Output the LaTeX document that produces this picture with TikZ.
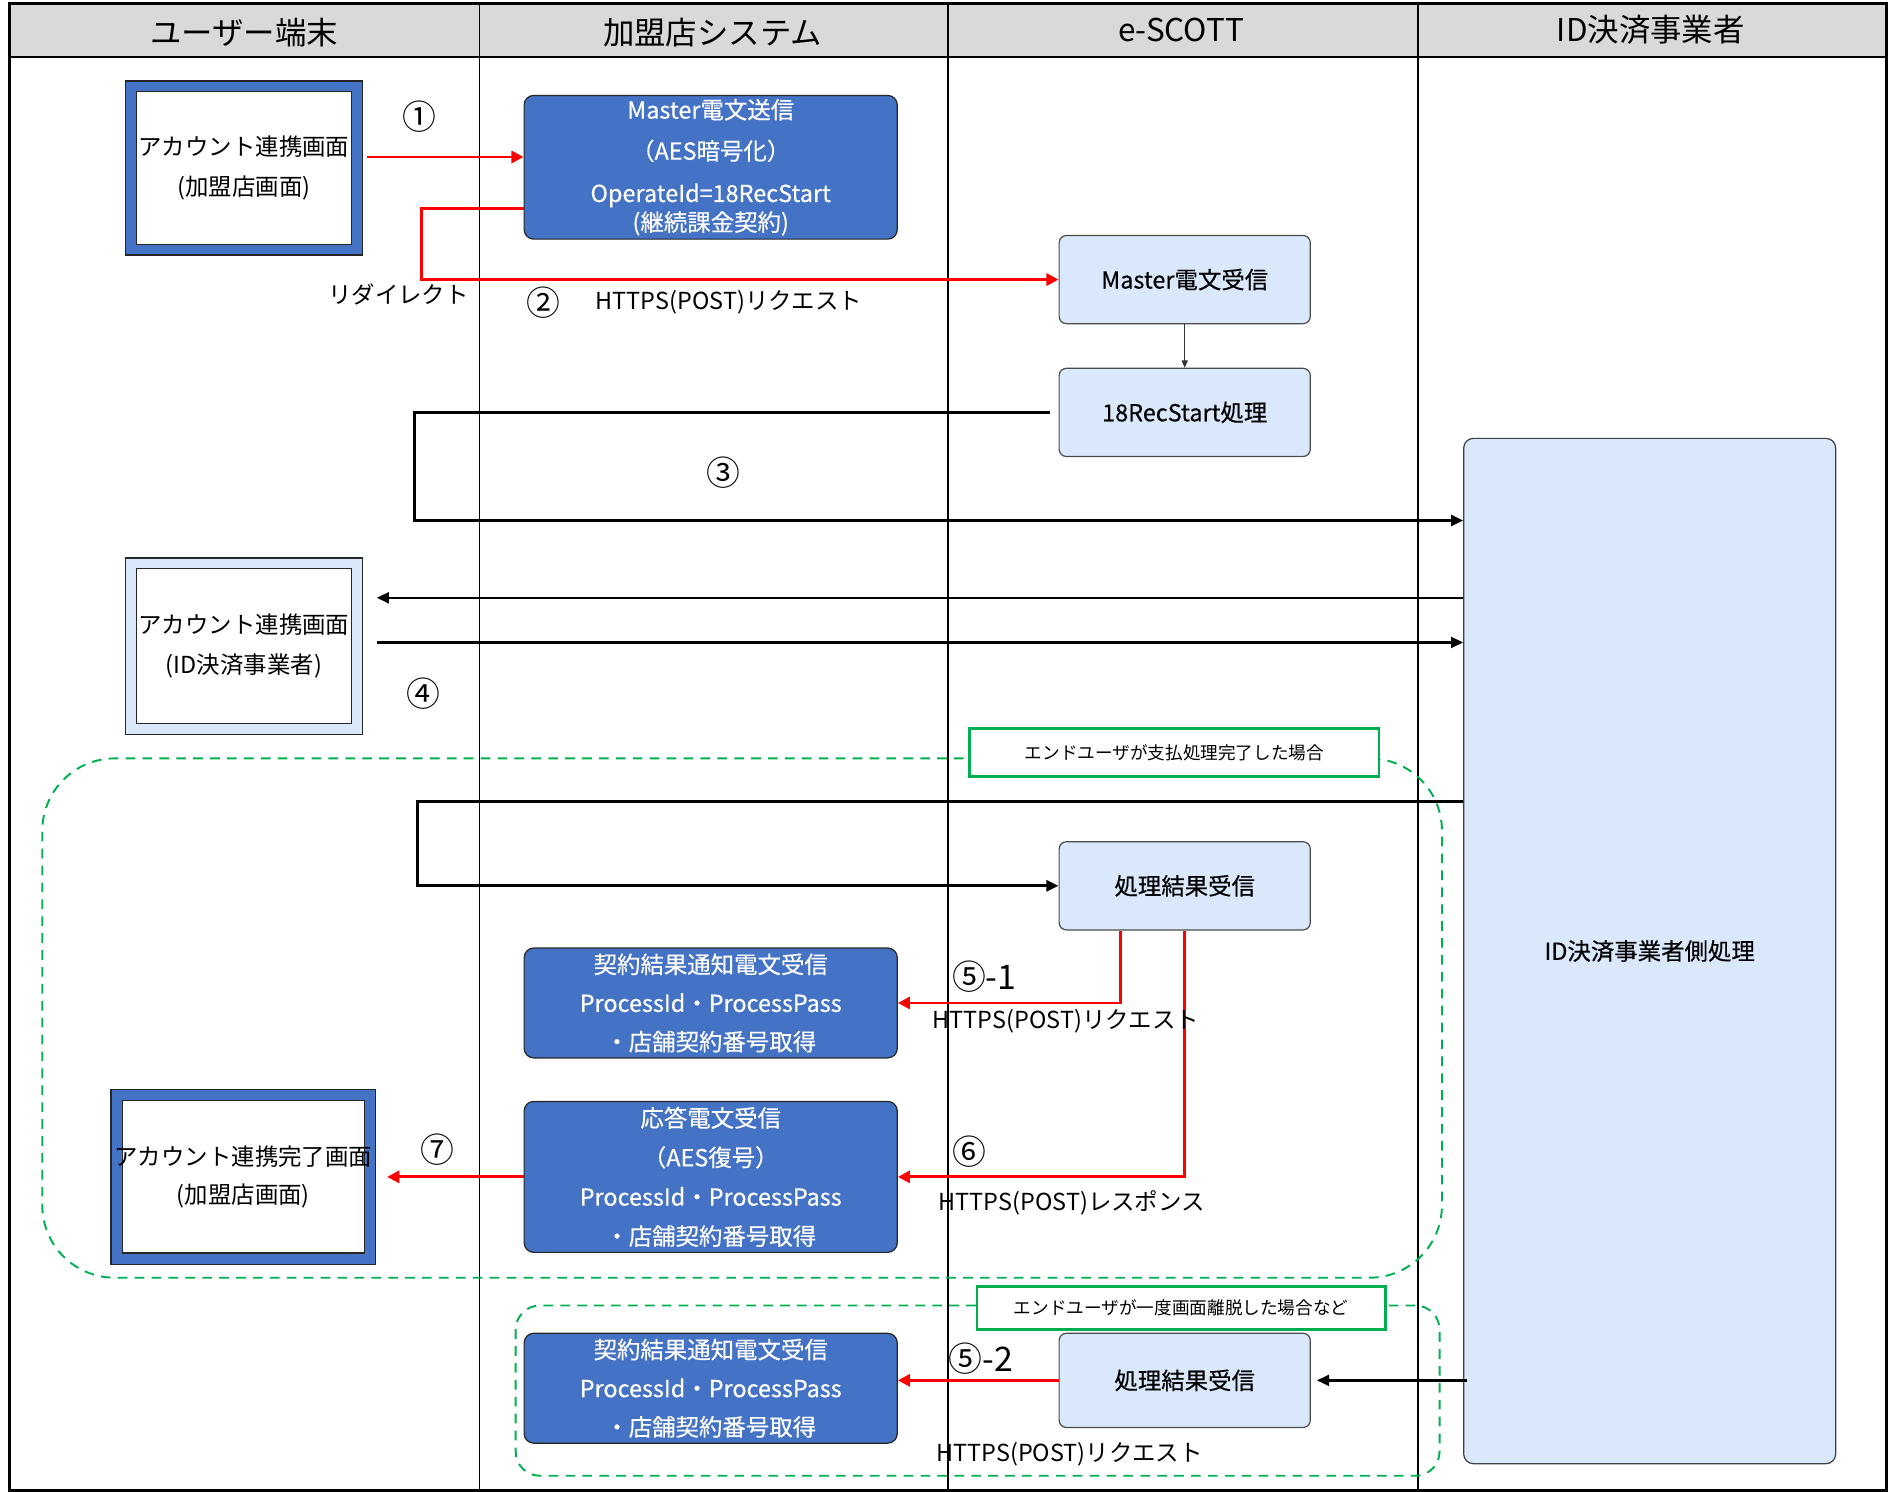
\documentclass[tikz,border=0pt]{standalone}
\usepackage{fontspec}
\setmainfont{Noto Sans CJK JP}
\newfontfamily\medfont[FakeBold=0.35]{Noto Sans CJK JP}
\usetikzlibrary{arrows.meta,calc}
\definecolor{hdr}{HTML}{D9D9D9}
\definecolor{blueA}{HTML}{4472C4}
\definecolor{lblue}{HTML}{DAE8FC}
\definecolor{grn}{HTML}{00B050}
\definecolor{redA}{HTML}{FF0000}
\begin{document}
\begin{tikzpicture}[x=0.5pt,y=-0.5pt,
  hdrtext/.style={font=\fontsize{13}{15}\selectfont, inner sep=0pt},
  bluebox/.style={draw=black!85, line width=0.5pt, fill=blueA, rounded corners=4pt, text=white, align=center, font=\medfont\fontsize{9.7}{16}\selectfont, minimum width=154.5pt, inner sep=0pt},
  lbox/.style={draw=black!70, line width=0.5pt, fill=lblue, rounded corners=3pt, minimum width=104pt, minimum height=36.5pt, font=\medfont\fontsize{9.7}{12}\selectfont, inner sep=0pt},
  outerbox/.style={draw=black!85, line width=0.6pt, inner sep=0pt},
  innerbox/.style={draw=black!85, line width=0.5pt, fill=white, align=center, inner sep=0pt, font=\fontsize{9.7}{16.5}\selectfont},
  numlbl/.style={font=\fontsize{14}{16}\selectfont, inner sep=0pt},
  lbl/.style={font=\fontsize{9.7}{12}\selectfont, inner sep=0pt},
  gdash/.style={draw=grn, line width=0.8pt, dash pattern=on 4pt off 3pt, inner sep=0pt},
  glabel/.style={draw=grn, line width=1.1pt, fill=white, font=\fontsize{7.3}{9}\selectfont, inner sep=0pt},
  redarr/.style={draw=redA, line width=1.2pt, -{Triangle[length=5pt,width=5pt]}},
  blkarr/.style={draw=black, line width=1.2pt, -{Triangle[length=5pt,width=4.5pt]}},
  blkarrthin/.style={draw=black, line width=1pt, -{Triangle[length=5pt,width=4.5pt]}},
]
\useasboundingbox (0,0) rectangle (1565,1235.4);

% header and frame
\fill[hdr] (8,3) rectangle (1562,47);
\draw[line width=0.8pt] (8,47) -- (1562,47);
\draw[line width=0.75pt] (397,3) -- (397,1234);
\draw[line width=0.75pt] (785,3) -- (785,1234);
\draw[line width=0.75pt] (1174,3) -- (1174,1234);
\draw[line width=1.1pt] (8,3) rectangle (1562,1234);
\node[hdrtext] (h1) at (202,27) {ユーザー端末};
\node[hdrtext] (h2) at (590,27) {加盟店システム};
\node[hdrtext] (h3) at (978,25) {e-SCOTT};
\node[hdrtext] (h4) at (1367,25) {ID決済事業者};

% green dashed groups
\node[gdash, rounded corners=30pt, minimum width=579.5pt, minimum height=215pt] (g1) at (614.5,843) {};
\node[gdash, rounded corners=10pt, minimum width=382.5pt, minimum height=70.5pt] (g2) at (809.5,1151.5) {};
\node[glabel, minimum width=169.5pt, minimum height=20pt] (gl1) at (972.5,623) {エンドユーザが支払処理完了した場合};
\node[glabel, minimum width=169pt, minimum height=18pt] (gl2) at (978,1083) {エンドユーザが一度画面離脱した場合など};

% user terminal boxes
\node[outerbox, fill=blueA, minimum width=98pt, minimum height=72pt] (a1) at (202,139) {};
\node[innerbox, minimum width=89pt, minimum height=63.5pt] (a1i) at (a1) {アカウント連携画面\\(加盟店画面)};
\node[outerbox, fill=lblue, minimum width=98pt, minimum height=73pt] (a2) at (202,535) {};
\node[innerbox, minimum width=89pt, minimum height=64pt] (a2i) at (a2) {アカウント連携画面\\(ID決済事業者)};
\node[outerbox, fill=blueA, minimum width=109.5pt, minimum height=72.5pt] (a3) at (201.5,974.5) {};
\node[innerbox, minimum width=100pt, minimum height=63pt] (a3i) at (a3) {};
\node[lbl, align=center, font=\fontsize{9.7}{16}\selectfont] (a3t) at (a3) {アカウント連携完了画面\\(加盟店画面)};

% merchant system boxes
\node[bluebox, minimum height=59.5pt, font=\medfont\fontsize{9.7}{12}\selectfont] (m1) at (588.5,138.5) {Master電文送信\\[5pt]（AES暗号化）\\[5.5pt]OperateId=18RecStart\\(継続課金契約)};
\node[bluebox, minimum height=45.5pt] (m2) at (588.5,830.5) {契約結果通知電文受信\\ProcessId・ProcessPass\\・店舗契約番号取得};
\node[bluebox, minimum height=62.5pt, font=\medfont\fontsize{9.7}{16.3}\selectfont] (m3) at (588.5,974.5) {応答電文受信\\（AES復号）\\ProcessId・ProcessPass\\・店舗契約番号取得};
\node[bluebox, minimum height=45.5pt] (m4) at (588.5,1149.5) {契約結果通知電文受信\\ProcessId・ProcessPass\\・店舗契約番号取得};

% e-SCOTT boxes
\node[lbox] (e1) at (981,231.5) {Master電文受信};
\node[lbox] (e2) at (981,341.5) {18RecStart処理};
\node[lbox] (e3) at (981,733.5) {処理結果受信};
\node[lbox, minimum height=39pt] (e4) at (981,1143) {処理結果受信};

% ID provider box
\node[draw=black!75, line width=0.5pt, fill=lblue, rounded corners=4pt, minimum width=154pt, minimum height=424.5pt, font=\medfont\fontsize{9.7}{12}\selectfont, inner sep=0pt] (idb) at (1366,787.5) {ID決済事業者側処理};

% bend coordinates
\coordinate (c1) at (304,130);
\coordinate (c2) at (349,231.5);
\coordinate (c3) at (343,431);
\coordinate (c4a) at (312,495);
\coordinate (c4b) at (312,532);
\coordinate (c5a) at (346,664);
\coordinate (c5b) at (346,733.5);

% connectors
\draw[redarr] (c1) -- (c1 -| m1.west);
\draw[redarr] ([yshift=-17.25pt]m1.west) -| (c2) -- (e1.west);
\draw[draw=black!80, line width=0.5pt, -{Triangle[length=3pt,width=2.5pt]}] (e1.south) -- (e2.north);
\draw[blkarr] ([xshift=-3.5pt]e2.west) -| (c3) -- (c3 -| idb.west);
\draw[blkarrthin] (c4a -| idb.west) -- (c4a);
\draw[blkarrthin] (c4b) -- (c4b -| idb.west);
\draw[blkarr] (c5a -| idb.west) -- (c5a) -- (c5b) -- (e3.west);
\draw[redarr] ([xshift=-26.5pt]e3.south) |- (m2.east);
\draw[redarr] (e3.south) |- (m3.east);
\draw[redarr] (m3.west) -- ([xshift=4.5pt]a3.east |- m3.west);
\draw[redarr] (e4.west) -- (e4.west -| m4.east);
\draw[blkarrthin] ([xshift=1.5pt]idb.west |- e4.east) -- ([xshift=2.5pt]e4.east);

% labels
\node[numlbl] (n1) at (347,97) {①};
\node[lbl] (lr) at (330,244) {リダイレクト};
\node[numlbl] (n2) at (450,251) {②};
\node[lbl, anchor=west] (l2) at (493,250) {HTTPS(POST)リクエスト};
\node[numlbl] (n3) at (599,391) {③};
\node[numlbl] (n4) at (351,574) {④};
\node[numlbl] (n51) at (815,809) {⑤-1};
\node[lbl, anchor=west] (l51) at (772,846) {HTTPS(POST)リクエスト};
\node[numlbl] (n6) at (803,954) {⑥};
\node[lbl, anchor=west] (l6) at (777,996) {HTTPS(POST)レスポンス};
\node[numlbl] (n7) at (362,952) {⑦};
\node[numlbl] (n52) at (812,1125) {⑤-2};
\node[lbl, anchor=west] (l52) at (775,1204) {HTTPS(POST)リクエスト};
\end{tikzpicture}
\end{document}
